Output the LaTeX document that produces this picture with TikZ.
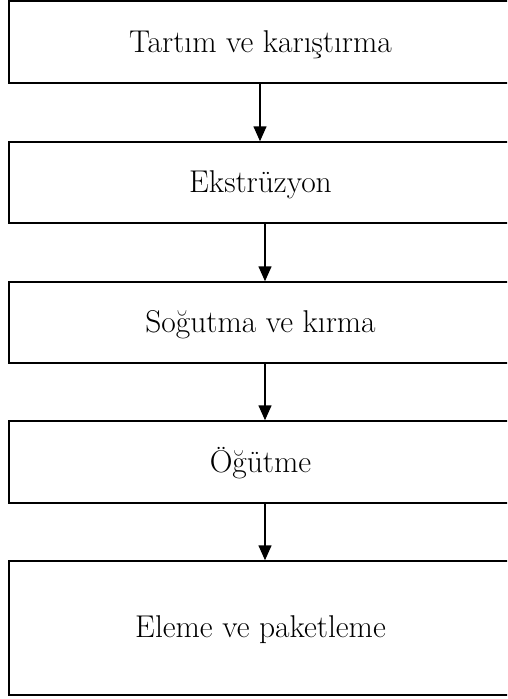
\documentclass[tikz,border=0pt]{standalone}
\usetikzlibrary{arrows.meta}
\begin{document}
\begin{tikzpicture}[x=1pt,y=-1pt,
  box/.style={draw=black,line width=1.5pt,rectangle,inner sep=0pt,minimum width=503pt},
  lbl/.style={font=\fontsize{31.5}{36}\selectfont,text height=20pt,text depth=0pt,inner sep=0pt},
  arr/.style={line width=1.5pt,-{Triangle[width=13pt,length=15pt]}}]
\useasboundingbox (0,0) rectangle (507,699);
\clip (0,0) rectangle (507,699);
\node[box,minimum height=82pt] (b1) at (260.5,42) {};
\node[box,minimum height=81pt] (b2) at (260.5,182.5) {};
\node[box,minimum height=81pt] (b3) at (260.5,322.5) {};
\node[box,minimum height=82pt] (b4) at (260.5,462) {};
\node[box,minimum height=134pt] (b5) at (260.5,628) {};
\node[lbl] (t1) at (260.5,42) {Tartım ve karıştırma};
\node[lbl] (t2) at (260.5,182.5) {Ekstrüzyon};
\node[lbl] (t3) at (260.5,322.5) {Soğutma ve kırma};
\node[lbl] (t4) at (260.5,462) {Öğütme};
\node[lbl] (t5) at (260.5,627.5) {Eleme ve paketleme};
\draw[arr] ([xshift=-0.5pt]b1.south) -- ([xshift=-0.5pt]b2.north);
\draw[arr] ([xshift=4.5pt]b2.south) -- ([xshift=4.5pt]b3.north);
\draw[arr] ([xshift=4.5pt]b3.south) -- ([xshift=4.5pt]b4.north);
\draw[arr] ([xshift=4.5pt]b4.south) -- ([xshift=4.5pt]b5.north);
\end{tikzpicture}
\end{document}
